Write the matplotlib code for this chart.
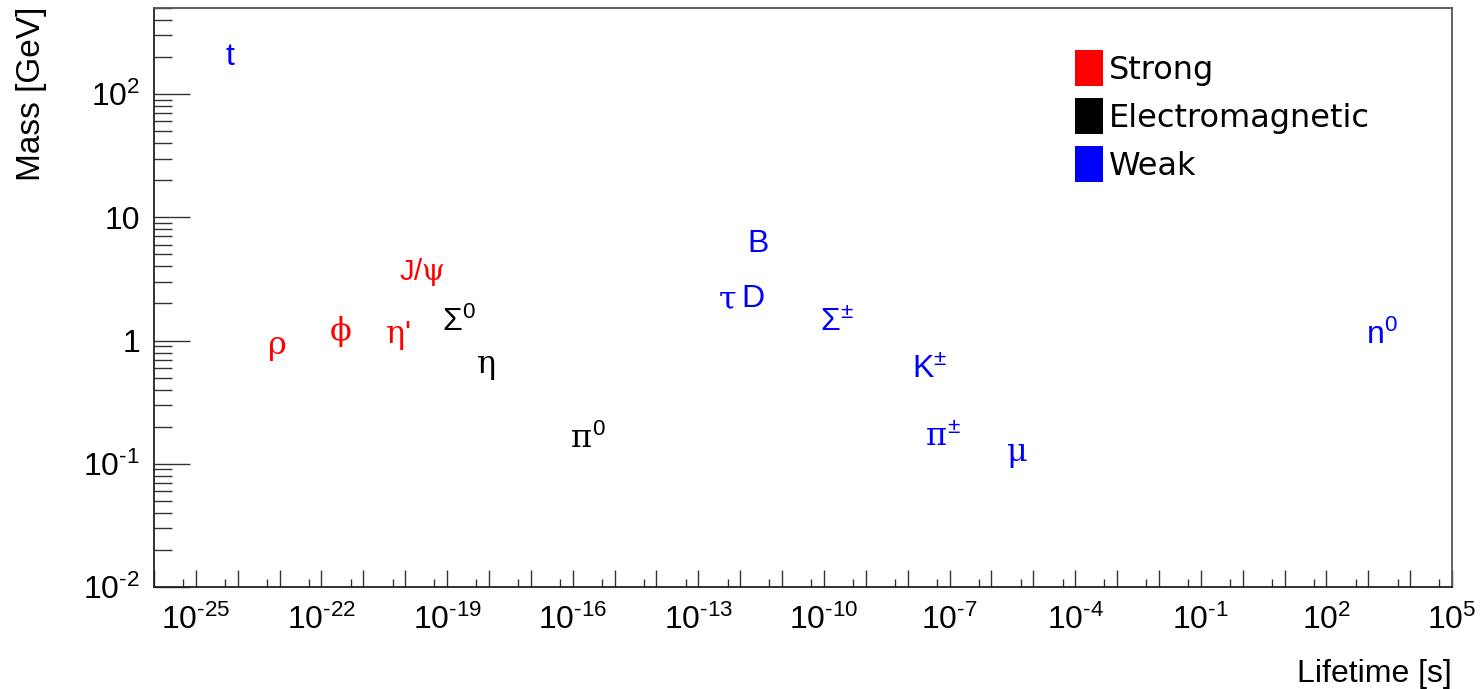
import numpy as np
import matplotlib
matplotlib.use('Agg')
import matplotlib.pyplot as plt
from matplotlib.ticker import FixedLocator, FuncFormatter
from matplotlib.patches import Patch

plt.rcParams['font.family'] = ['Liberation Sans', 'DejaVu Sans']
plt.rcParams['mathtext.fontset'] = 'custom'
plt.rcParams['mathtext.rm'] = 'Liberation Sans'
plt.rcParams['mathtext.it'] = 'DejaVu Serif'
plt.rcParams['mathtext.bf'] = 'Liberation Sans:bold'
plt.rcParams['mathtext.sf'] = 'Liberation Sans'

# particle labels, lifetime [s], mass [GeV]
strong_labels = [r'$\rho$', r'$\phi$', r"$\eta$'", r'J/$\psi$']
strong_lifetime = [5.0e-24, 1.55e-22, 3.3e-21, 7.1e-21]
strong_mass = [0.775, 1.019, 0.958, 3.097]

em_labels = [r'$\Sigma^{0}$', r'$\eta$', r'$\pi^{0}$']
em_lifetime = [7.4e-20, 5.0e-19, 8.5e-17]
em_mass = [1.193, 0.548, 0.135]

weak_labels = ['t', r'$\tau$', 'D', 'B', r'$\Sigma^{\pm}$', r'K$^{\pm}$',
               r'$\pi^{\pm}$', r'$\mu$', r'n$^{0}$']
weak_lifetime = [5.0e-25, 2.9e-13, 1.04e-12, 1.5e-12, 8.0e-11, 1.24e-8,
                 2.6e-8, 2.2e-6, 880.0]
weak_mass = [173.0, 1.777, 1.87, 5.28, 1.189, 0.494, 0.1396, 0.1057, 0.9396]

groups = [('Strong', 'red', strong_labels, strong_lifetime, strong_mass),
          ('Electromagnetic', 'black', em_labels, em_lifetime, em_mass),
          ('Weak', 'blue', weak_labels, weak_lifetime, weak_mass)]

fs = 23
small = {r'J/$\psi$': 21}  # J/psi is drawn a bit smaller in the original

fig = plt.figure(figsize=(14.81, 6.89), dpi=100)
ax = fig.add_axes([154 / 1481, 102 / 689, 1298 / 1481, 579 / 689])
ax.set_xscale('log')
ax.set_yscale('log')
ax.set_xlim(1e-26, 1e5)
ax.set_ylim(1e-2, 500)

for name, col, labels, life, mass in groups:
    for lab, x, y in zip(labels, life, mass):
        ax.text(x, y, lab, color=col, fontsize=small.get(lab, fs),
                ha='left', va='baseline')

# ticks
x_exp = np.arange(-26, 6)
ax.xaxis.set_major_locator(FixedLocator(10.0 ** x_exp))
ax.xaxis.set_minor_locator(FixedLocator(5 * 10.0 ** np.arange(-27, 5)))


def pow_label(e):
    if e < 0:
        return r'$10^{\text{-}%d}$' % (-e)
    return r'$10^{%d}$' % e


def xfmt(v, pos):
    e = int(round(np.log10(v)))
    if (e + 25) % 3 == 0:
        return pow_label(e)
    return ''


def yfmt(v, pos):
    e = int(round(np.log10(v)))
    if e == 0:
        return '1'
    if e == 1:
        return '10'
    return pow_label(e)


ax.xaxis.set_major_formatter(FuncFormatter(xfmt))
ax.xaxis.set_minor_formatter(FuncFormatter(lambda v, p: ''))
ax.yaxis.set_major_locator(FixedLocator([1e-2, 1e-1, 1, 10, 100]))
ax.yaxis.set_minor_locator(FixedLocator(
    [m * 10.0 ** e for e in range(-2, 3) for m in range(2, 10)]))
ax.yaxis.set_major_formatter(FuncFormatter(yfmt))
ax.yaxis.set_minor_formatter(FuncFormatter(lambda v, p: ''))

ax.tick_params(axis='x', which='major', direction='in', length=12, width=1,
               color='#333333', pad=13, labelsize=fs, top=False)
ax.tick_params(axis='x', which='minor', direction='in', length=6, width=1,
               color='#333333', top=False)
ax.tick_params(axis='y', which='major', direction='in', length=26, width=1,
               color='#333333', pad=10, labelsize=fs, right=False)
ax.tick_params(axis='y', which='minor', direction='in', length=13, width=1,
               color='#333333', right=False)
for s in ax.spines.values():
    s.set_linewidth(1.3)
    s.set_color('#222222')
ax.spines['top'].set_color('#555555')
ax.spines['right'].set_color('#555555')

fig.text(32 / 1481, 1 - 7 / 689, 'Mass [GeV]', rotation=90, ha='center',
         va='top', fontsize=24)
fig.text(1452 / 1481, 7 / 689, 'Lifetime [s]', ha='right', va='baseline',
         fontsize=fs)

handles = [Patch(facecolor=c, edgecolor='none', label=n) for n, c, *_ in groups]
ax.legend(handles=handles, loc='upper left',
          bbox_to_anchor=((1075 - 154) / 1298, (587 - 50) / 579),
          frameon=False, prop={'family': 'DejaVu Sans', 'size': fs},
          handlelength=0.87, handleheight=1.37,
          handletextpad=0.2, labelspacing=0.37, borderpad=0, borderaxespad=0)

fig.savefig('out.png', dpi=100)
